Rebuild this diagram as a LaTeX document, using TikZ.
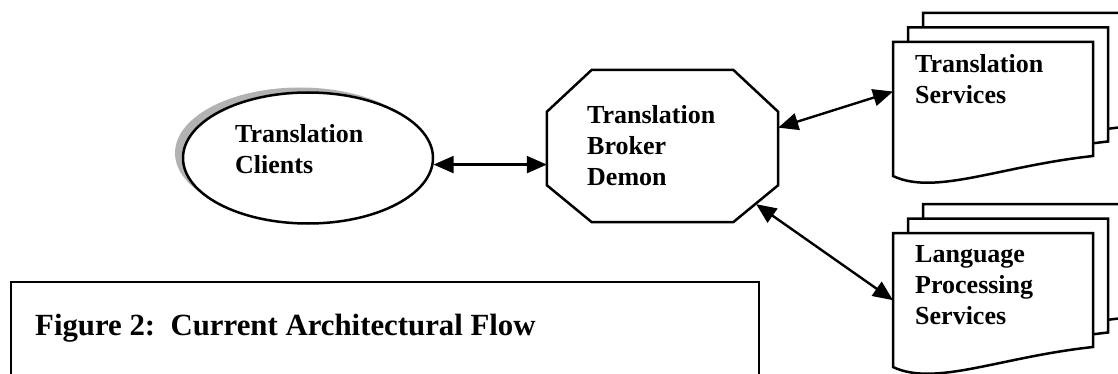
\documentclass[tikz,border=0pt]{standalone}
\usepackage{fontspec}
\setmainfont{Liberation Serif}
\usetikzlibrary{shapes,arrows.meta,shadows}
\tikzstyle{link} = [line width=2.4pt,{Triangle[length=20pt,width=17pt]}-{Triangle[length=20pt,width=17pt]}]
\tikzstyle{txt} = [align=left, inner sep=0pt, anchor=north west, font=\fontsize{26}{31}\selectfont\bfseries]
\tikzstyle{page} = [line width=2.5pt, fill=white, line join=miter]

\begin{document}
\begin{tikzpicture}[x=1pt,y=-1pt]
\useasboundingbox (0,0) rectangle (1118,374);
% caption box
\node[draw, line width=2pt, anchor=north west, minimum width=748pt, minimum height=130pt] (capbox) at (10,281) {};
\node[anchor=north west, inner sep=0pt, font=\fontsize{30.8}{36}\selectfont\bfseries] (captxt) at (35,314) {Figure 2:\ \ Current Architectural Flow};
% clients
\node[draw, ellipse, line width=2.5pt, fill=white, minimum width=250pt, minimum height=131pt,
    drop shadow={shadow xshift=-8pt, shadow yshift=5pt, fill=gray!60, opacity=1}] (clients) at (308,158) {};
\node[txt] (clientstxt) at (235,124) {Translation\\Clients};
% broker
\node[minimum width=231pt, minimum height=152pt, inner sep=0pt] (broker) at (662.5,146) {};
\draw[line width=2.5pt] ([xshift=45pt]broker.north west) -- ([xshift=-45pt]broker.north east)
    -- ([yshift=-42pt]broker.north east) -- ([yshift=37pt]broker.south east)
    -- ([xshift=-45pt]broker.south east) -- ([xshift=45pt]broker.south west)
    -- ([yshift=37pt]broker.south west) -- ([yshift=-42pt]broker.north west) -- cycle;
\coordinate (brokerse) at ([xshift=-22pt,yshift=18pt]broker.south east);
\node[txt] (brokertxt) at (587,105) {Translation\\Broker\\Demon};
% service stacks
\foreach \s in {0,191}
  \foreach \k in {2,1,0}
    \draw[page, shift={({15*\k},{\s-14.5*\k})}] (893,42) -- (1093,42) -- (1093,156)
        .. controls (1000,166) and (935,196) .. (893,176) -- cycle;
\node[minimum width=200pt, minimum height=134pt, inner sep=0pt, anchor=north west] (transsvc) at (893,42) {};
\node[minimum width=200pt, minimum height=134pt, inner sep=0pt, anchor=north west] (langsvc) at (893,233) {};
\node[txt] (transtxt) at (915,54) {Translation\\Services};
\node[txt] (langtxt) at (915,245) {Language\\Processing\\Services};
% connectors
\draw[link] (clients.-3) -- (clients.-3 -| broker.west);
\draw[link] (broker.9) -- (transsvc.170);
\draw[link] (brokerse) -- (langsvc.west);
\end{tikzpicture}
\end{document}
